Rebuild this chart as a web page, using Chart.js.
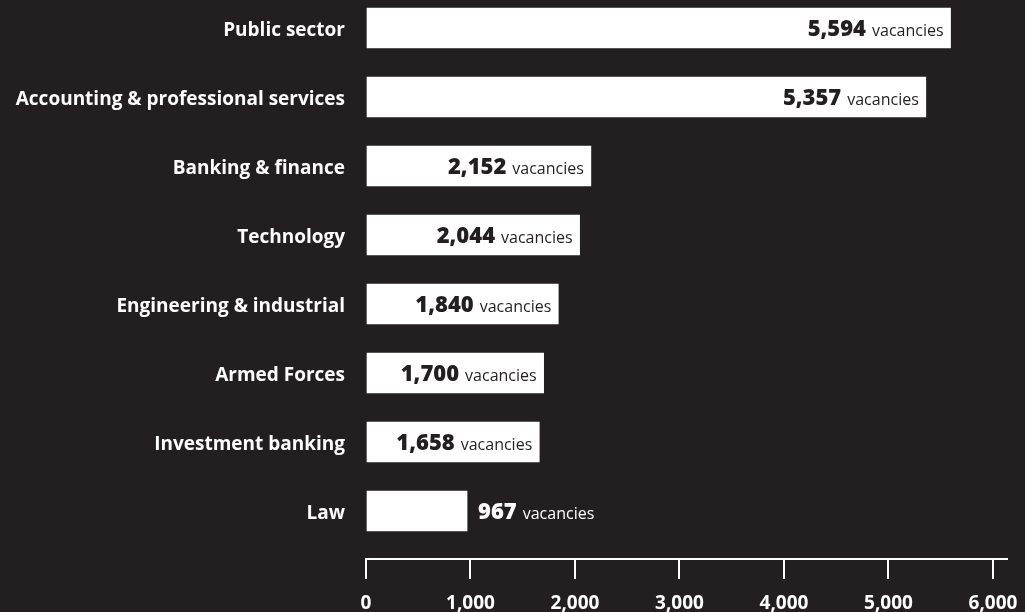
<!DOCTYPE html>
<html>
<head>
<meta charset="utf-8">
<title>Graduate vacancies by sector</title>
<script src="https://cdn.jsdelivr.net/npm/chart.js@4.4.1/dist/chart.umd.min.js"></script>
<style>
  html, body { margin: 0; padding: 0; background: #231f20; }
  #wrap { width: 1025px; height: 612px; position: relative; }
</style>
</head>
<body>
<div id="wrap"><canvas id="vacancyChart"></canvas></div>
<script>
const sectors = [
  'Public sector',
  'Accounting & professional services',
  'Banking & finance',
  'Technology',
  'Engineering & industrial',
  'Armed Forces',
  'Investment banking',
  'Law'
];
const vacancies = [5594, 5357, 2152, 2044, 1840, 1700, 1658, 967];
const xTicks = [0, 1000, 2000, 3000, 4000, 5000, 6000];

const BG = '#231f20';
const numFont = '800 22px "Open Sans"';
const wordFont = '400 16px "Open Sans"';

// number + "vacancies" at the end of every bar; goes outside when the bar is too short
const valueLabels = {
  id: 'valueLabels',
  afterDatasetsDraw(chart) {
    const ctx = chart.ctx;
    const bars = chart.getDatasetMeta(0).data;
    ctx.save();
    ctx.textBaseline = 'alphabetic';
    ctx.textAlign = 'left';
    bars.forEach((bar, i) => {
      const num = vacancies[i].toLocaleString('en-GB');
      ctx.font = numFont;
      const nw = ctx.measureText(num).width;
      ctx.font = wordFont;
      const ww = ctx.measureText('vacancies').width;
      const gap = 6;
      const total = nw + gap + ww;
      let x = bar.x - 7 - total;
      let colour = BG;
      if (x < bar.base + 10) {
        x = bar.x + 11;
        colour = '#fff';
      }
      const y = bar.y + 8;
      ctx.fillStyle = colour;
      ctx.font = numFont;
      ctx.fillText(num, x, y);
      ctx.font = wordFont;
      ctx.fillText('vacancies', x + nw + gap, y);
    });
    ctx.restore();
  }
};

// keep the plot area fixed: no extra room reserved for edge labels
function noEdgePadding(s) {
  s.paddingTop = 0;
  s.paddingBottom = 0;
  s.paddingLeft = 0;
  s.paddingRight = 0;
}

const ctx = document.getElementById('vacancyChart').getContext('2d');
new Chart(ctx, {
  type: 'bar',
  data: {
    datasets: [{
      data: vacancies.map((v, i) => ({ x: v, y: i })),
      backgroundColor: '#ffffff',
      borderWidth: 0,
      barThickness: 40
    }]
  },
  options: {
    indexAxis: 'y',
    responsive: true,
    maintainAspectRatio: false,
    animation: false,
    devicePixelRatio: 1,
    layout: { padding: { top: 0, right: 18, bottom: 0, left: 0 } },
    plugins: {
      legend: { display: false },
      tooltip: { enabled: false }
    },
    scales: {
      x: {
        type: 'linear',
        min: 0,
        max: 6134,
        afterBuildTicks: s => { s.ticks = xTicks.map(v => ({ value: v })); },
        afterFit: s => { s.height = 53; noEdgePadding(s); },
        border: { display: true, color: '#ffffff', width: 2 },
        grid: { drawOnChartArea: false, color: '#ffffff', lineWidth: 2, tickLength: 20 },
        ticks: {
          color: '#ffffff',
          padding: 13,
          maxRotation: 0,
          font: { family: '"Open Sans"', size: 19, weight: 'bold' },
          callback: v => v.toLocaleString('en-GB')
        }
      },
      y: {
        type: 'linear',
        reverse: true,
        offset: false,
        min: -0.406,
        max: 7.696,
        afterBuildTicks: s => { s.ticks = sectors.map((_, i) => ({ value: i })); },
        afterFit: s => { s.width = 366; noEdgePadding(s); },
        border: { display: false },
        grid: { display: false, drawTicks: false },
        ticks: {
          color: '#ffffff',
          padding: 21,
          labelOffset: 3,
          autoSkip: false,
          font: { family: '"Open Sans"', size: 19, weight: 'bold' },
          callback: v => sectors[v]
        }
      }
    }
  },
  plugins: [valueLabels]
});
</script>
</body>
</html>
